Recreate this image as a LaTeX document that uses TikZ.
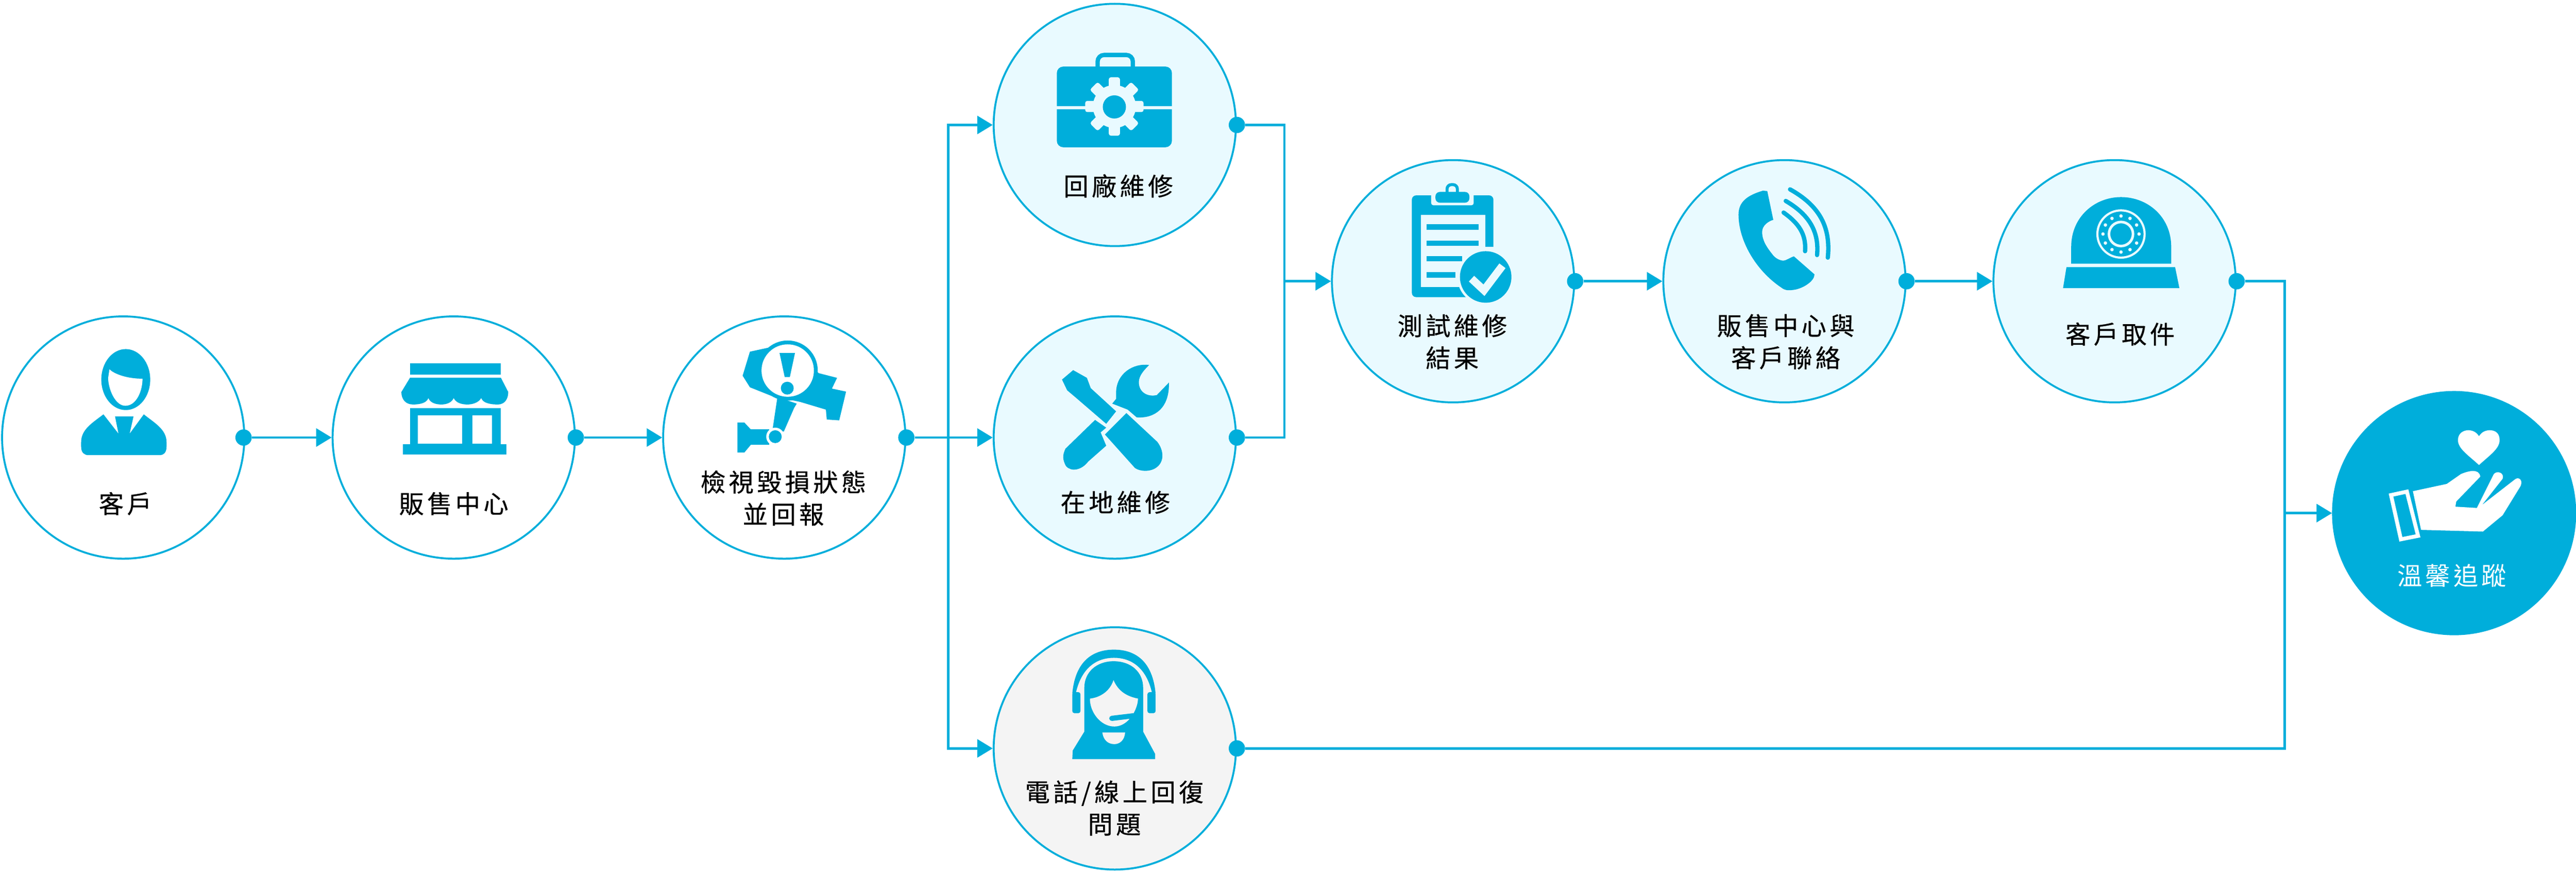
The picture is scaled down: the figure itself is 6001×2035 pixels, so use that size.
\documentclass[tikz,border=0pt]{standalone}
\usepackage{fontspec}
\usetikzlibrary{arrows.meta}
\newfontfamily\cjkbold[LetterSpace=13,FakeBold=0.5]{Noto Sans CJK TC}
\newfontfamily\cjkthin[LetterSpace=13]{Noto Sans CJK TC}
\definecolor{flowblue}{HTML}{00AEDB}
\definecolor{softblue}{HTML}{E9FAFF}
\definecolor{softgrey}{HTML}{F4F4F4}

\tikzset{
	ring/.style={circle, draw=flowblue, line width=0.45mm, minimum size=5.64cm, inner sep=0pt, fill=#1},
	ring/.default=white,
	knob/.style={circle, fill=flowblue, minimum size=3.8mm, inner sep=0pt},
	wire/.style={draw=flowblue, line width=0.55mm},
	flow/.style={wire, -{Triangle[length=3.6mm, width=4.2mm]}},
	caption/.style={align=center, inner sep=0pt, font=\fontsize{16.5pt}{21.3pt}\selectfont\cjkbold},
	icon/.style={fill=flowblue}
}

\begin{document}
\begin{tikzpicture}[x=0.01cm, y=-0.01cm]
	\useasboundingbox (0,0) rectangle (6001,2035);

	% circles
	\node [ring] (client) at (287,1019) {};
	\node [ring] (shop) at (1057,1019) {};
	\node [ring] (inspect) at (1827,1019) {};
	\node [ring=softblue] (factory) at (2597,291) {};
	\node [ring=softblue] (onsite) at (2597,1019) {};
	\node [ring=softgrey] (hotline) at (2597,1743) {};
	\node [ring=softblue] (test) at (3385,655) {};
	\node [ring=softblue] (contact) at (4157,655) {};
	\node [ring=softblue] (pickup) at (4926,655) {};
	\node [ring=flowblue] (care) at (5717,1195) {};

	% knobs on the right of each circle
	\node [knob] (client-knob) at ([xshift=-0.04cm]client.east) {};
	\foreach \n in {shop,inspect,factory,onsite,hotline,test,contact,pickup}
		\node [knob] (\n-knob) at (\n.east) {};

	\coordinate (busleft) at (2209,1019);
	\coordinate (busmid) at (2992,655);
	\coordinate (busright) at (5322,1195);

	% connectors
	\draw [flow] (client-knob) -- (shop.west);
	\draw [flow] (shop-knob) -- (inspect.west);
	\draw [flow] (inspect-knob) -- (onsite.west);
	\draw [flow] (busleft) |- (factory.west);
	\draw [flow] (busleft) |- (hotline.west);
	\draw [wire] (factory-knob) -| (busmid);
	\draw [wire] (onsite-knob) -| (busmid);
	\draw [flow] (busmid) -- (test.west);
	\draw [flow] (test-knob) -- (contact.west);
	\draw [flow] (contact-knob) -- (pickup.west);
	\draw [wire] (pickup-knob) -| (busright);
	\draw [wire] (hotline-knob) -| (busright);
	\draw [flow] (busright) -- (care.west);

	% client
	\fill [icon] (293,884) ellipse (57 and 71);
	\fill [white] (255,860) .. controls (262,868) and (290,882) .. (332,882) .. controls (332,910) and (318,945) .. (292,945) .. controls (268,945) and (252,905) .. (252,880) -- cycle;
	\fill [icon] (241,965) .. controls (215,985) and (189,1000) .. (189,1030) -- (189,1040) .. controls (189,1055) and (197,1060) .. (206,1060) -- (373,1060) .. controls (380,1060) and (388,1055) .. (388,1040) -- (388,1030) .. controls (388,1000) and (360,985) .. (335,965) -- (302,1010) -- (311,970) -- (268,970) -- (276,1010) -- cycle;

	% shop
	\fill [icon] (955,846) rectangle (1167,872);
	\fill [icon] (955,880) -- (1167,880) -- (1184,913) .. controls (1184,930) and (1175,942) .. (1160,942) .. controls (1140,942) and (1125,938) .. (1121,927) .. controls (1115,938) and (1100,942) .. (1089,942) .. controls (1075,942) and (1062,938) .. (1057,927) .. controls (1052,938) and (1040,942) .. (1028,942) .. controls (1015,942) and (1002,938) .. (998,927) .. controls (994,938) and (980,942) .. (962,942) .. controls (945,942) and (935,930) .. (935,913) -- cycle;
	\fill [icon] (955,950) rectangle (1167,1034);
	\fill [icon] (938,1034) rectangle (1180,1058);
	\fill [white] (973,967) rectangle (1077,1033);
	\fill [white] (1100,967) rectangle (1146,1033);

	% inspect
	\fill [icon] (1747,819) -- (1730,875) -- (1747,902) -- (1797,922) -- (1864,936) -- (1924,954) -- (1926,977) -- (1955,979) -- (1971,912) -- (1938,905) -- (1950,880) -- (1907,869) -- (1835,800) -- cycle;
	\fill [icon] (1835,863) circle (70);
	\fill [white] (1835,863) circle (61);
	\fill [icon] (1816,822) -- (1852,822) -- (1840,878) -- (1828,878) -- cycle;
	\fill [icon] (1834,904) circle (15);
	\fill [icon] (1811,925) -- (1856,940) -- (1850,950) -- (1826,1005) -- (1799,1005) -- cycle;
	\fill [icon] (1718,984) -- (1734,984) -- (1749,1000) -- (1792,1000) -- (1792,1036) -- (1749,1036) -- (1734,1054) -- (1718,1054) -- cycle;
	\fill [white] (1806,1017) circle (21);
	\fill [icon] (1806,1017) circle (15);

	% factory
	\draw [flowblue, line width=1mm, rounded corners=1.5mm] (2557,158) -- (2557,128) -- (2639,128) -- (2639,158);
	\fill [icon, rounded corners=1.5mm] (2462,155) rectangle (2730,343);
	\fill [softblue] (2462,247) rectangle (2730,255);
	\fill [softblue] (2596,248) circle (50);
	\foreach \a in {0,45,...,315}
		\fill [softblue, rotate around={\a:(2596,248)}, rounded corners=0.5mm] (2583,180) rectangle (2609,248);
	\fill [icon] (2596,249) circle (27);

	% onsite
	\fill [icon] (2474,884) -- (2500,862) -- (2532,880) -- (2541,904) -- (2600,958) -- (2577,987) -- (2505,925) -- (2486,909) -- cycle;
	\fill [icon] (2624,962) -- (2696,1029) .. controls (2712,1050) and (2712,1075) .. (2695,1088) .. controls (2680,1100) and (2655,1098) .. (2644,1090) -- (2574,1012) -- cycle;
	\fill [icon] (2551,978) -- (2577,996) -- (2564,1007) -- (2577,1038) -- (2535,1075) .. controls (2520,1095) and (2495,1100) .. (2483,1085) .. controls (2475,1070) and (2475,1060) .. (2482,1045) -- cycle;
	\fill [icon] (2677,850) .. controls (2640,845) and (2600,870) .. (2600,915) -- (2600,929) -- (2591,940) -- (2627,954) -- (2648,972) .. controls (2690,975) and (2725,950) .. (2723,891) -- (2695,920) .. controls (2675,925) and (2653,915) .. (2653,890) .. controls (2653,875) and (2665,862) .. cycle;

	% hotline
	\fill [icon] (2498,1615) .. controls (2505,1540) and (2545,1513) .. (2595,1513) .. controls (2645,1513) and (2685,1540) .. (2692,1615) -- (2684,1615) .. controls (2672,1560) and (2640,1532) .. (2595,1532) .. controls (2550,1532) and (2518,1560) .. (2506,1615) -- cycle;
	\fill [icon, rounded corners=0.5mm] (2498,1612) rectangle (2517,1661);
	\fill [icon, rounded corners=0.5mm] (2673,1612) rectangle (2692,1661);
	\fill [icon] (2526,1704) -- (2526,1602) .. controls (2526,1565) and (2555,1540) .. (2594,1540) .. controls (2635,1540) and (2663,1565) .. (2663,1602) -- (2663,1704) -- (2691,1756) -- (2691,1768) -- (2498,1768) -- (2499,1748) -- cycle;
	\fill [softgrey] (2594,1584) .. controls (2605,1610) and (2625,1622) .. (2651,1627) .. controls (2651,1650) and (2630,1692) .. (2596,1692) .. controls (2565,1692) and (2539,1660) .. (2539,1627) .. controls (2560,1625) and (2585,1612) .. cycle;
	\fill [softgrey] (2568,1706) -- (2621,1706) .. controls (2620,1722) and (2610,1733) .. (2596,1733) .. controls (2580,1733) and (2570,1722) .. cycle;
	\draw [flowblue, line width=1.2mm, line cap=round] (2590,1673) -- (2640,1667);

	% test
	\fill [icon, rounded corners=1mm] (3289,455) rectangle (3479,692);
	\fill [softblue, rounded corners=0.5mm] (3334,440) rectangle (3433,478);
	\fill [icon, rounded corners=1mm] (3344,447) rectangle (3423,472);
	\draw [flowblue, line width=0.7mm, rounded corners=1mm] (3371,450) -- (3371,430) -- (3395,430) -- (3395,450);
	\fill [softblue] (3310,501) rectangle (3460,668);
	\fill [softblue] (3460,575) rectangle (3480,700);
	\fill [icon] (3323,522) rectangle (3444,535);
	\fill [icon] (3323,560) rectangle (3444,572);
	\fill [icon] (3323,597) rectangle (3406,609);
	\fill [icon] (3323,634) rectangle (3390,647);
	\fill [softblue] (3461,645) circle (66);
	\fill [icon] (3461,645) circle (60);
	\draw [softblue, line width=1.8mm] (3428,649) -- (3457,676) -- (3500,619);

	% contact
	\fill [icon] (4107,444) .. controls (4070,455) and (4050,470) .. (4050,500) .. controls (4050,560) and (4090,630) .. (4150,670) .. controls (4160,678) and (4170,676) .. (4179,675) .. controls (4200,672) and (4227,655) .. (4227,639) -- (4179,597) .. controls (4170,600) and (4160,607) .. (4155,607) .. controls (4145,607) and (4135,600) .. (4131,595) .. controls (4115,575) and (4105,560) .. (4105,540) .. controls (4105,525) and (4120,515) .. (4131,512) -- (4117,445) -- cycle;
	\draw [flowblue, line width=1mm, line cap=round] (4170,441) .. controls (4240,480) and (4265,530) .. (4258,600);
	\draw [flowblue, line width=1mm, line cap=round] (4160,468) .. controls (4215,500) and (4238,540) .. (4233,594);
	\draw [flowblue, line width=1mm, line cap=round] (4155,495) .. controls (4190,520) and (4208,545) .. (4205,585);

	% pickup
	\fill [icon] (4825,614) -- (4825,575) .. controls (4825,505) and (4880,459) .. (4941,459) .. controls (5003,459) and (5058,505) .. (5058,575) -- (5058,614) -- cycle;
	\fill [icon] (4814,622) -- (5067,622) -- (5077,671) -- (4806,671) -- cycle;
	\draw [softblue, line width=0.5mm] (4941,545) circle (55);
	\draw [softblue, line width=0.6mm] (4941,545) circle (28);
	\foreach \a in {0,30,...,330}
		\fill [softblue] ({4941+42*cos(\a)},{545+42*sin(\a)}) circle (4);

	% care
	\fill [white] (5775,1083) .. controls (5750,1060) and (5726,1045) .. (5726,1025) .. controls (5726,1008) and (5740,1002) .. (5750,1002) .. controls (5762,1002) and (5770,1008) .. (5775,1016) .. controls (5780,1008) and (5788,1002) .. (5800,1002) .. controls (5812,1002) and (5823,1008) .. (5823,1025) .. controls (5823,1045) and (5800,1060) .. cycle;
	\draw [white, line width=0.9mm] (5570,1153) -- (5607,1145) -- (5633,1248) -- (5593,1256) -- cycle;
	\fill [white] (5621,1144) -- (5700,1127) -- (5733,1104) .. controls (5750,1097) and (5775,1090) .. (5778,1110) -- (5722,1168) -- (5720,1180) -- (5770,1183) -- (5809,1105) .. controls (5815,1095) and (5835,1100) .. (5830,1115) -- (5782,1176) -- (5858,1117) .. controls (5868,1108) and (5880,1120) .. (5870,1135) -- (5830,1200) -- (5784,1238) -- (5640,1234) -- cycle;

	% captions
	\node [caption] (client-text) at (292,1173) {客戶};
	\node [caption] (shop-text) at (1057,1173) {販售中心};
	\node [caption] (inspect-text) at (1825,1160) {檢視毀損狀態\\並回報};
	\node [caption] (factory-text) at (2605,433) {回廠維修};
	\node [caption] (onsite-text) at (2598,1170) {在地維修};
	\node [caption] (hotline-text) at (2596,1882) {電話/線上回復\\問題};
	\node [caption] (test-text) at (3383,796) {測試維修\\結果};
	\node [caption] (contact-text) at (4160,796) {販售中心與\\客戶聯絡};
	\node [caption] (pickup-text) at (4939,778) {客戶取件};
	\node [caption, font=\fontsize{16.5pt}{21.3pt}\selectfont\cjkthin, text=white] (care-text) at (5712,1341) {溫馨追蹤};
\end{tikzpicture}
\end{document}
